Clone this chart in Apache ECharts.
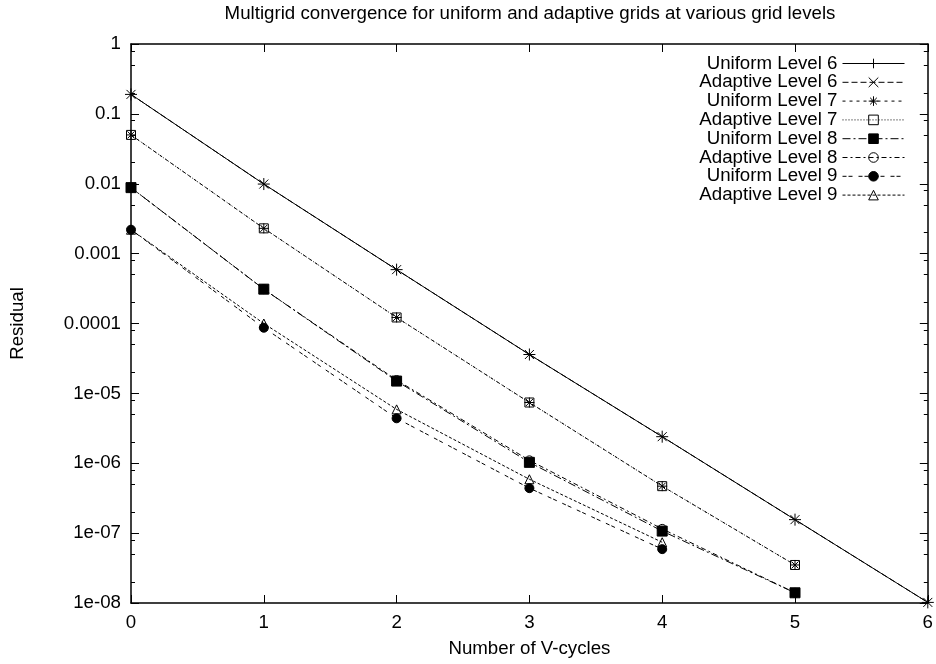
<!DOCTYPE html>
<html><head><meta charset="utf-8">
<script src="https://cdn.jsdelivr.net/npm/echarts@6/dist/echarts.min.js"></script>
<style>html,body{margin:0;padding:0;background:#fff}#c{width:936px;height:664px}</style>
</head><body><div id="c"></div>
<script>
// ---- data ----
const vCycles = [0, 1, 2, 3, 4, 5, 6];
const uniform6  = [0.19, 0.0099, 5.9e-4, 3.6e-5, 2.4e-6, 1.56e-7, 1.02e-8];
const adaptive6 = [0.19, 0.0099, 5.9e-4, 3.6e-5, 2.4e-6, 1.56e-7, 1.02e-8];
const uniform7  = [0.05, 0.0023, 1.22e-4, 7.4e-6, 4.7e-7, 3.5e-8];
const adaptive7 = [0.05, 0.0023, 1.22e-4, 7.4e-6, 4.7e-7, 3.5e-8];
const uniform8  = [0.0088, 3.1e-4, 1.5e-5, 1.03e-6, 1.07e-7, 1.4e-8];
const adaptive8 = [0.0088, 3.1e-4, 1.55e-5, 1.1e-6, 1.15e-7, 1.4e-8];
const uniform9  = [0.0022, 8.7e-5, 4.4e-6, 4.4e-7, 5.9e-8];
const adaptive9 = [0.0022, 1.0e-4, 5.9e-6, 5.9e-7, 7.4e-8];
const seriesNames = ['Uniform Level 6', 'Adaptive Level 6', 'Uniform Level 7', 'Adaptive Level 7',
                     'Uniform Level 8', 'Adaptive Level 8', 'Uniform Level 9', 'Adaptive Level 9'];
const yTickLabels = ['1e-08', '1e-07', '1e-06', '1e-05', '0.0001', '0.001', '0.01', '0.1', '1'];
const xTickLabels = ['0', '1', '2', '3', '4', '5', '6'];
const minorMultipliers = [2, 5, 8];

// ---- styles ----
const FONT = 'Liberation Sans';
const FS = 18.7;
const PLUS = 'path://M0,5L10,5M5,0L5,10';
const CROSS = 'path://M0,0L10,10M10,0L0,10';
const STAR = 'path://M0,5L10,5M5,0L5,10M1.5,1.5L8.5,8.5M8.5,1.5L1.5,8.5';
const CLEAR = 'rgba(0,0,0,0)';
const styles = [
  {symbol: PLUS, size: 12, fill: CLEAR, dash: 'solid'},
  {symbol: CROSS, size: 9, fill: CLEAR, dash: [6, 3]},
  {symbol: STAR, size: 10, fill: CLEAR, dash: [3, 4]},
  {symbol: 'rect', size: 9, fill: CLEAR, dash: [1, 2]},
  {symbol: 'rect', size: 10, fill: '#000', dash: [8, 3, 2, 3]},
  {symbol: 'circle', size: 9, fill: CLEAR, dash: [5, 3, 2, 3]},
  {symbol: 'circle', size: 9, fill: '#000', dash: [4, 2, 4, 6]},
  {symbol: 'triangle', size: 9, fill: CLEAR, dash: [3, 2]}
];
const dataSets = [uniform6, adaptive6, uniform7, adaptive7, uniform8, adaptive8, uniform9, adaptive9];

const minorTicks = [];
for (let e = -8; e < 0; e++) minorMultipliers.forEach(m => minorTicks.push(m * Math.pow(10, e)));

const series = dataSets.map((vals, i) => ({
  name: seriesNames[i],
  type: 'line',
  data: vals.map((v, j) => [vCycles[j], v]),
  symbol: styles[i].symbol,
  symbolSize: styles[i].size,
  showAllSymbol: true,
  lineStyle: {color: '#000', width: 1, type: styles[i].dash},
  itemStyle: {color: styles[i].fill, borderColor: '#000', borderWidth: 1},
  emphasis: {disabled: true},
  z: 2 + i
}));

const yBase = {
  type: 'log', logBase: 10, min: 1e-8, max: 1, interval: 1,
  splitLine: {show: false}
};
const chart = echarts.init(document.getElementById('c'), null, {renderer: 'canvas'});
chart.setOption({
  animation: false,
  backgroundColor: '#fff',
  title: {
    text: 'Multigrid convergence for uniform and adaptive grids at various grid levels',
    left: 530, top: 4, padding: 0, textAlign: 'center',
    textStyle: {fontFamily: FONT, fontSize: FS, fontWeight: 'normal', color: '#000'}
  },
  legend: {
    orient: 'vertical', right: 31, top: 54, padding: 0,
    align: 'right', itemWidth: 62, itemHeight: 12, itemGap: -0.2,
    textStyle: {fontFamily: FONT, fontSize: FS, color: '#000', lineHeight: 14},
    itemStyle: {borderColor: '#000', borderWidth: 1},
    lineStyle: {width: 1},
    data: seriesNames
  },
  grid: {left: 128, right: 8, top: 44, bottom: 61, show: false},
  xAxis: [{
    type: 'value', min: 0, max: 6, interval: 1,
    name: 'Number of V-cycles', nameLocation: 'middle', nameGap: 36,
    nameTextStyle: {fontFamily: FONT, fontSize: FS, color: '#000'},
    axisLine: {show: true, lineStyle: {color: '#000', width: 1.5}},
    axisTick: {show: true, inside: true, length: 8, lineStyle: {color: '#000'}},
    axisLabel: {fontFamily: FONT, fontSize: FS, color: '#000', margin: 10,
      formatter: v => xTickLabels[Math.round(v)]},
    splitLine: {show: false}
  }, {
    type: 'value', min: 0, max: 6, interval: 1, position: 'top',
    axisLine: {show: true, onZero: false, lineStyle: {color: '#000', width: 1.5}},
    axisTick: {show: true, inside: true, length: 8, lineStyle: {color: '#000'}},
    axisLabel: {show: false}, splitLine: {show: false}
  }],
  yAxis: [Object.assign({}, yBase, {
    position: 'left',
    name: 'Residual', nameLocation: 'middle', nameGap: 104,
    nameTextStyle: {fontFamily: FONT, fontSize: FS, color: '#000'},
    axisLine: {show: true, lineStyle: {color: '#000', width: 1.5}},
    axisTick: {show: true, inside: true, length: 8, lineStyle: {color: '#000'}},
    axisLabel: {fontFamily: FONT, fontSize: FS, color: '#000', margin: 10,
      formatter: v => yTickLabels[Math.round(Math.log10(v)) + 8]}
  }), Object.assign({}, yBase, {
    position: 'left',
    axisLine: {show: false},
    axisTick: {show: true, inside: true, length: 4, customValues: minorTicks, lineStyle: {color: '#000'}},
    axisLabel: {show: false}
  }), Object.assign({}, yBase, {
    position: 'right',
    axisLine: {show: true, onZero: false, lineStyle: {color: '#000', width: 1.5}},
    axisTick: {show: true, inside: true, length: 8, lineStyle: {color: '#000'}},
    axisLabel: {show: false}
  }), Object.assign({}, yBase, {
    position: 'right',
    axisLine: {show: false},
    axisTick: {show: true, inside: true, length: 4, customValues: minorTicks, lineStyle: {color: '#000'}},
    axisLabel: {show: false}
  })],
  series: series
});
</script></body></html>
